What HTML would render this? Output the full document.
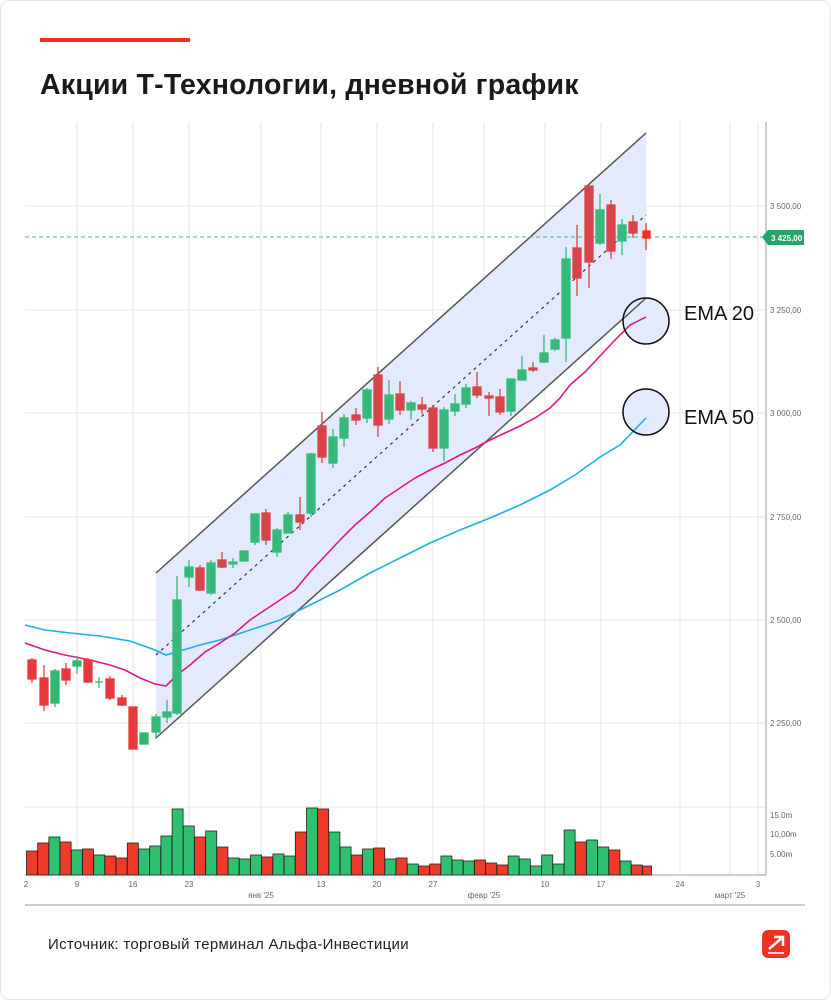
<!DOCTYPE html>
<html><head><meta charset="utf-8"><style>
body{margin:0;background:#fff;width:831px;height:1000px;overflow:hidden;font-family:"Liberation Sans",sans-serif}
.card{position:absolute;left:0;top:0;width:829px;height:998px;border:1px solid #e4e4e4;border-radius:10px}
</style></head><body>
<div class="card"></div>
<svg width="831" height="1000" style="position:absolute;left:0;top:0" font-family="Liberation Sans, sans-serif">
<rect x="40" y="38" width="150" height="4" fill="#ee3124"/>
<text x="40" y="94" font-size="28.5" font-weight="bold" fill="#1a1a1a" letter-spacing="0.2">Акции Т-Технологии, дневной график</text>
<!-- grid -->
<g stroke="#e6e6e6" stroke-width="1">
<line x1="25" y1="206" x2="766" y2="206"/><line x1="25" y1="310" x2="766" y2="310"/><line x1="25" y1="413" x2="766" y2="413"/><line x1="25" y1="517" x2="766" y2="517"/><line x1="25" y1="620" x2="766" y2="620"/><line x1="25" y1="723" x2="766" y2="723"/>
<line x1="25" y1="807" x2="766" y2="807"/>
<line x1="77" y1="122" x2="77" y2="875"/><line x1="133" y1="122" x2="133" y2="875"/><line x1="189" y1="122" x2="189" y2="875"/><line x1="321" y1="122" x2="321" y2="875"/><line x1="377" y1="122" x2="377" y2="875"/><line x1="433" y1="122" x2="433" y2="875"/><line x1="545" y1="122" x2="545" y2="875"/><line x1="601" y1="122" x2="601" y2="875"/><line x1="680" y1="122" x2="680" y2="875"/><line x1="758" y1="122" x2="758" y2="875"/>
<line x1="261" y1="122" x2="261" y2="875"/><line x1="484" y1="122" x2="484" y2="875"/><line x1="730" y1="122" x2="730" y2="875"/>
</g>
<line x1="766" y1="122" x2="766" y2="875" stroke="#999"/>
<line x1="25" y1="875" x2="766" y2="875" stroke="#999"/>
<line x1="25" y1="905" x2="805" y2="905" stroke="#999"/>
<!-- channel -->
<polygon points="156,573 646,133 646,298 156,738" fill="#e3eafb"/>
<line x1="156" y1="573" x2="646" y2="133" stroke="#555" stroke-width="1.5"/>
<line x1="156" y1="738" x2="646" y2="298" stroke="#555" stroke-width="1.5"/>
<line x1="156" y1="655" x2="646" y2="215" stroke="#333" stroke-width="1.2" stroke-dasharray="3,4"/>
<!-- circles fill -->
<circle cx="646" cy="321" r="23" fill="#e3eafb"/>
<circle cx="646" cy="412" r="23" fill="#e3eafb"/>
<line x1="623" y1="319" x2="646" y2="298" stroke="#555" stroke-width="1.5"/>
<!-- EMAs -->
<polyline fill="none" stroke="#1ab0e8" stroke-width="1.6" points="25,625 45,630 70,633 100,636 130,641 155,650 166,655 180,651 200,645 220,640 250,630 280,620 310,605 340,590 370,573 400,558 430,543 460,530 490,518 520,505 550,490 575,475 600,457 620,445 646,418"/>
<polyline fill="none" stroke="#e0168f" stroke-width="1.6" points="25,643 45,650 65,655 90,660 110,665 125,670 140,678 155,684 166,686 177,675 190,665 205,652 220,643 235,633 250,620 265,610 280,600 295,590 310,572 325,556 340,540 355,525 370,512 385,498 400,488 415,478 430,470 445,463 460,455 475,448 490,440 505,433 520,426 535,418 550,408 560,398 570,385 585,372 600,356 615,340 630,325 646,317"/>
<!-- price line -->
<line x1="25" y1="237" x2="762" y2="237" stroke="#3dbb7f" stroke-dasharray="4,3"/>
<polygon points="762,237 768,230 804,230 804,245 768,245" fill="#22a66a"/>
<text x="771" y="241" font-size="8" font-weight="bold" fill="#fff">3 425,00</text>
<g font-size="8" fill="#666">
<text x="770" y="209">3 500,00</text><text x="770" y="313">3 250,00</text><text x="770" y="416">3 000,00</text><text x="770" y="520">2 750,00</text><text x="770" y="623">2 500,00</text><text x="770" y="726">2 250,00</text>
<text x="770" y="818">15.0m</text><text x="770" y="837">10.00m</text><text x="770" y="857">5.00m</text>
</g>
<g font-size="8" fill="#666" text-anchor="middle">
<text x="77" y="887">9</text><text x="133" y="887">16</text><text x="189" y="887">23</text><text x="321" y="887">13</text><text x="377" y="887">20</text><text x="433" y="887">27</text><text x="545" y="887">10</text><text x="601" y="887">17</text><text x="680" y="887">24</text><text x="758" y="887">3</text><text x="26" y="887">2</text>
<text x="261" y="898">янв '25</text><text x="484" y="898">февр '25</text><text x="730" y="898">март '25</text>
</g>
<!-- candles -->
<g stroke-width="1.3">
<g stroke="#e8383d" fill="#e8383d">
<line x1="32" y1="658" x2="32" y2="683"/><rect x="28" y="660" width="8" height="19"/>
<line x1="44" y1="665" x2="44" y2="711"/><rect x="40" y="678" width="8" height="27"/>
<line x1="66" y1="663" x2="66" y2="685"/><rect x="62" y="669" width="8" height="11"/>
<line x1="88" y1="658" x2="88" y2="683"/><rect x="84" y="660" width="8" height="22"/>
<line x1="110" y1="676" x2="110" y2="700"/><rect x="106" y="679" width="8" height="19"/>
<line x1="122" y1="695" x2="122" y2="706"/><rect x="118" y="698" width="8" height="7"/>
<rect x="129" y="707" width="8" height="42"/>
</g>
<g stroke="#d9434a" fill="#d9434a">
<line x1="200" y1="565" x2="200" y2="591"/><rect x="196" y="568" width="8" height="22"/>
<line x1="222" y1="552" x2="222" y2="568"/><rect x="218" y="560" width="8" height="7"/>
<line x1="266" y1="509" x2="266" y2="545"/><rect x="262" y="513" width="8" height="27"/>
<line x1="300" y1="497" x2="300" y2="530"/><rect x="296" y="515" width="8" height="7"/>
<line x1="322" y1="412" x2="322" y2="463"/><rect x="318" y="426" width="8" height="31"/>
<line x1="356" y1="408" x2="356" y2="425"/><rect x="352" y="415" width="8" height="5"/>
<line x1="378" y1="367" x2="378" y2="437"/><rect x="374" y="375" width="8" height="50"/>
<line x1="400" y1="381" x2="400" y2="415"/><rect x="396" y="394" width="8" height="16"/>
<line x1="422" y1="397" x2="422" y2="414"/><rect x="418" y="405" width="8" height="4"/>
<line x1="433" y1="405" x2="433" y2="452"/><rect x="429" y="408" width="8" height="40"/>
<line x1="477" y1="372" x2="477" y2="398"/><rect x="473" y="387" width="8" height="8"/>
<line x1="489" y1="392" x2="489" y2="416"/><rect x="485" y="396" width="8" height="2"/>
<line x1="500" y1="389" x2="500" y2="415"/><rect x="496" y="397" width="8" height="15"/>
<line x1="533" y1="362" x2="533" y2="372"/><rect x="529" y="368" width="8" height="2"/>
<line x1="577" y1="225" x2="577" y2="296"/><rect x="573" y="248" width="8" height="30"/>
<line x1="589" y1="186" x2="589" y2="288"/><rect x="585" y="186" width="8" height="76"/>
<line x1="611" y1="200" x2="611" y2="259"/><rect x="607" y="205" width="8" height="46"/>
<line x1="633" y1="215" x2="633" y2="238"/><rect x="629" y="222" width="8" height="11"/>
</g>
<g stroke="#ee3124" fill="#ee3124"><line x1="646" y1="223" x2="646" y2="250"/><rect x="643" y="231" width="7" height="7"/></g>
<g stroke="#2fb870" fill="#2fb870">
<line x1="55" y1="669" x2="55" y2="707"/><rect x="51" y="671" width="8" height="32"/>
<line x1="77" y1="656" x2="77" y2="674"/><rect x="73" y="661" width="8" height="5"/>
<line x1="99" y1="677" x2="99" y2="688"/><line x1="95" y1="682" x2="103" y2="682"/>
<rect x="140" y="733" width="8" height="11"/>
</g>
<g stroke="#38b97c" fill="#38b97c">
<line x1="156" y1="714" x2="156" y2="739"/><rect x="152" y="717" width="8" height="15"/>
<line x1="167" y1="700" x2="167" y2="723"/><rect x="163" y="712" width="8" height="5"/>
<line x1="177" y1="576" x2="177" y2="715"/><rect x="173" y="600" width="8" height="113"/>
<line x1="189" y1="560" x2="189" y2="587"/><rect x="185" y="567" width="8" height="10"/>
<line x1="211" y1="560" x2="211" y2="595"/><rect x="207" y="563" width="8" height="30"/>
<line x1="233" y1="558" x2="233" y2="568"/><rect x="229" y="562" width="8" height="2"/>
<rect x="240" y="551" width="8" height="10"/>
<line x1="255" y1="514" x2="255" y2="545"/><rect x="251" y="514" width="8" height="28"/>
<line x1="277" y1="528" x2="277" y2="557"/><rect x="273" y="530" width="8" height="22"/>
<line x1="288" y1="512" x2="288" y2="533"/><rect x="284" y="515" width="8" height="18"/>
<line x1="311" y1="453" x2="311" y2="517"/><rect x="307" y="454" width="8" height="59"/>
<line x1="333" y1="429" x2="333" y2="468"/><rect x="329" y="437" width="8" height="26"/>
<line x1="344" y1="414" x2="344" y2="447"/><rect x="340" y="418" width="8" height="20"/>
<line x1="367" y1="388" x2="367" y2="423"/><rect x="363" y="390" width="8" height="28"/>
<line x1="389" y1="380" x2="389" y2="424"/><rect x="385" y="395" width="8" height="24"/>
<line x1="411" y1="401" x2="411" y2="420"/><rect x="407" y="403" width="8" height="7"/>
<line x1="444" y1="407" x2="444" y2="461"/><rect x="440" y="410" width="8" height="38"/>
<line x1="455" y1="394" x2="455" y2="416"/><rect x="451" y="404" width="8" height="7"/>
<line x1="466" y1="384" x2="466" y2="408"/><rect x="462" y="388" width="8" height="16"/>
<line x1="511" y1="379" x2="511" y2="416"/><rect x="507" y="379" width="8" height="32"/>
<line x1="522" y1="356" x2="522" y2="380"/><rect x="518" y="370" width="8" height="10"/>
<line x1="544" y1="335" x2="544" y2="363"/><rect x="540" y="353" width="8" height="9"/>
<line x1="555" y1="338" x2="555" y2="351"/><rect x="551" y="340" width="8" height="9"/>
<line x1="566" y1="247" x2="566" y2="362"/><rect x="562" y="259" width="8" height="79"/>
<line x1="600" y1="194" x2="600" y2="245"/><rect x="596" y="210" width="8" height="33"/>
<line x1="622" y1="219" x2="622" y2="255"/><rect x="618" y="225" width="8" height="16"/>
</g>
</g>
<!-- circles -->
<circle cx="646" cy="321" r="23" fill="none" stroke="#111" stroke-width="1.5"/>
<circle cx="646" cy="412" r="23" fill="none" stroke="#111" stroke-width="1.5"/>
<text x="684" y="320" font-size="20" fill="#111">EMA 20</text>
<text x="684" y="424" font-size="20" fill="#111">EMA 50</text>
<!-- volume -->
<g stroke="#222" stroke-width="0.8">
<rect x="26.5" y="851" width="11" height="24" fill="#f03a2a"/>
<rect x="37.7" y="843" width="11" height="32" fill="#f03a2a"/>
<rect x="48.9" y="837" width="11" height="38" fill="#2fc16f"/>
<rect x="60.1" y="842" width="11" height="33" fill="#f03a2a"/>
<rect x="71.3" y="850" width="11" height="25" fill="#2fc16f"/>
<rect x="82.5" y="849" width="11" height="26" fill="#f03a2a"/>
<rect x="93.7" y="855" width="11" height="20" fill="#2fc16f"/>
<rect x="104.9" y="856" width="11" height="19" fill="#f03a2a"/>
<rect x="116.1" y="858" width="11" height="17" fill="#f03a2a"/>
<rect x="127.3" y="843" width="11" height="32" fill="#f03a2a"/>
<rect x="138.5" y="849" width="11" height="26" fill="#2fc16f"/>
<rect x="149.7" y="846" width="11" height="29" fill="#2fc16f"/>
<rect x="160.9" y="836" width="11" height="39" fill="#2fc16f"/>
<rect x="172.1" y="809" width="11" height="66" fill="#2fc16f"/>
<rect x="183.3" y="826" width="11" height="49" fill="#2fc16f"/>
<rect x="194.5" y="837" width="11" height="38" fill="#f03a2a"/>
<rect x="205.7" y="831" width="11" height="44" fill="#2fc16f"/>
<rect x="216.9" y="847" width="11" height="28" fill="#f03a2a"/>
<rect x="228.1" y="858" width="11" height="17" fill="#2fc16f"/>
<rect x="239.3" y="859" width="11" height="16" fill="#2fc16f"/>
<rect x="250.5" y="855" width="11" height="20" fill="#2fc16f"/>
<rect x="261.7" y="857" width="11" height="18" fill="#f03a2a"/>
<rect x="272.9" y="854" width="11" height="21" fill="#2fc16f"/>
<rect x="284.1" y="856" width="11" height="19" fill="#2fc16f"/>
<rect x="295.3" y="832" width="11" height="43" fill="#f03a2a"/>
<rect x="306.5" y="808" width="11" height="67" fill="#2fc16f"/>
<rect x="317.7" y="809" width="11" height="66" fill="#f03a2a"/>
<rect x="328.9" y="832" width="11" height="43" fill="#2fc16f"/>
<rect x="340.1" y="847" width="11" height="28" fill="#2fc16f"/>
<rect x="351.3" y="855" width="11" height="20" fill="#f03a2a"/>
<rect x="362.5" y="849" width="11" height="26" fill="#2fc16f"/>
<rect x="373.7" y="848" width="11" height="27" fill="#f03a2a"/>
<rect x="384.9" y="859" width="11" height="16" fill="#2fc16f"/>
<rect x="396.1" y="858" width="11" height="17" fill="#f03a2a"/>
<rect x="407.3" y="864" width="11" height="11" fill="#2fc16f"/>
<rect x="418.5" y="866" width="11" height="9" fill="#f03a2a"/>
<rect x="429.7" y="864" width="11" height="11" fill="#f03a2a"/>
<rect x="440.9" y="856" width="11" height="19" fill="#2fc16f"/>
<rect x="452.1" y="860" width="11" height="15" fill="#2fc16f"/>
<rect x="463.3" y="861" width="11" height="14" fill="#2fc16f"/>
<rect x="474.5" y="860" width="11" height="15" fill="#f03a2a"/>
<rect x="485.7" y="863" width="11" height="12" fill="#f03a2a"/>
<rect x="496.9" y="865" width="11" height="10" fill="#f03a2a"/>
<rect x="508.1" y="856" width="11" height="19" fill="#2fc16f"/>
<rect x="519.3" y="859" width="11" height="16" fill="#2fc16f"/>
<rect x="530.5" y="866" width="11" height="9" fill="#2fc16f"/>
<rect x="541.7" y="855" width="11" height="20" fill="#2fc16f"/>
<rect x="552.9" y="864" width="11" height="11" fill="#2fc16f"/>
<rect x="564.1" y="830" width="11" height="45" fill="#2fc16f"/>
<rect x="575.3" y="842" width="11" height="33" fill="#f03a2a"/>
<rect x="586.5" y="840" width="11" height="35" fill="#2fc16f"/>
<rect x="597.7" y="847" width="11" height="28" fill="#2fc16f"/>
<rect x="608.9" y="850" width="11" height="25" fill="#f03a2a"/>
<rect x="620.1" y="861" width="11" height="14" fill="#2fc16f"/>
<rect x="631.3" y="865" width="11" height="10" fill="#f03a2a"/>
<rect x="642.5" y="866" width="9" height="9" fill="#f03a2a"/>
</g>
<text x="48" y="949" font-size="15" fill="#222" letter-spacing="0.3">Источник: торговый терминал Альфа-Инвестиции</text>
<rect x="762" y="930" width="28" height="28" rx="6" fill="#ee3124"/>
<path d="M769 949 L783 937 M774 937 L783 937 L783 946" stroke="#fff" stroke-width="2.5" fill="none"/>
<line x1="768" y1="953" x2="784" y2="953" stroke="#fff" stroke-width="1.5"/>
</svg>
</body></html>
